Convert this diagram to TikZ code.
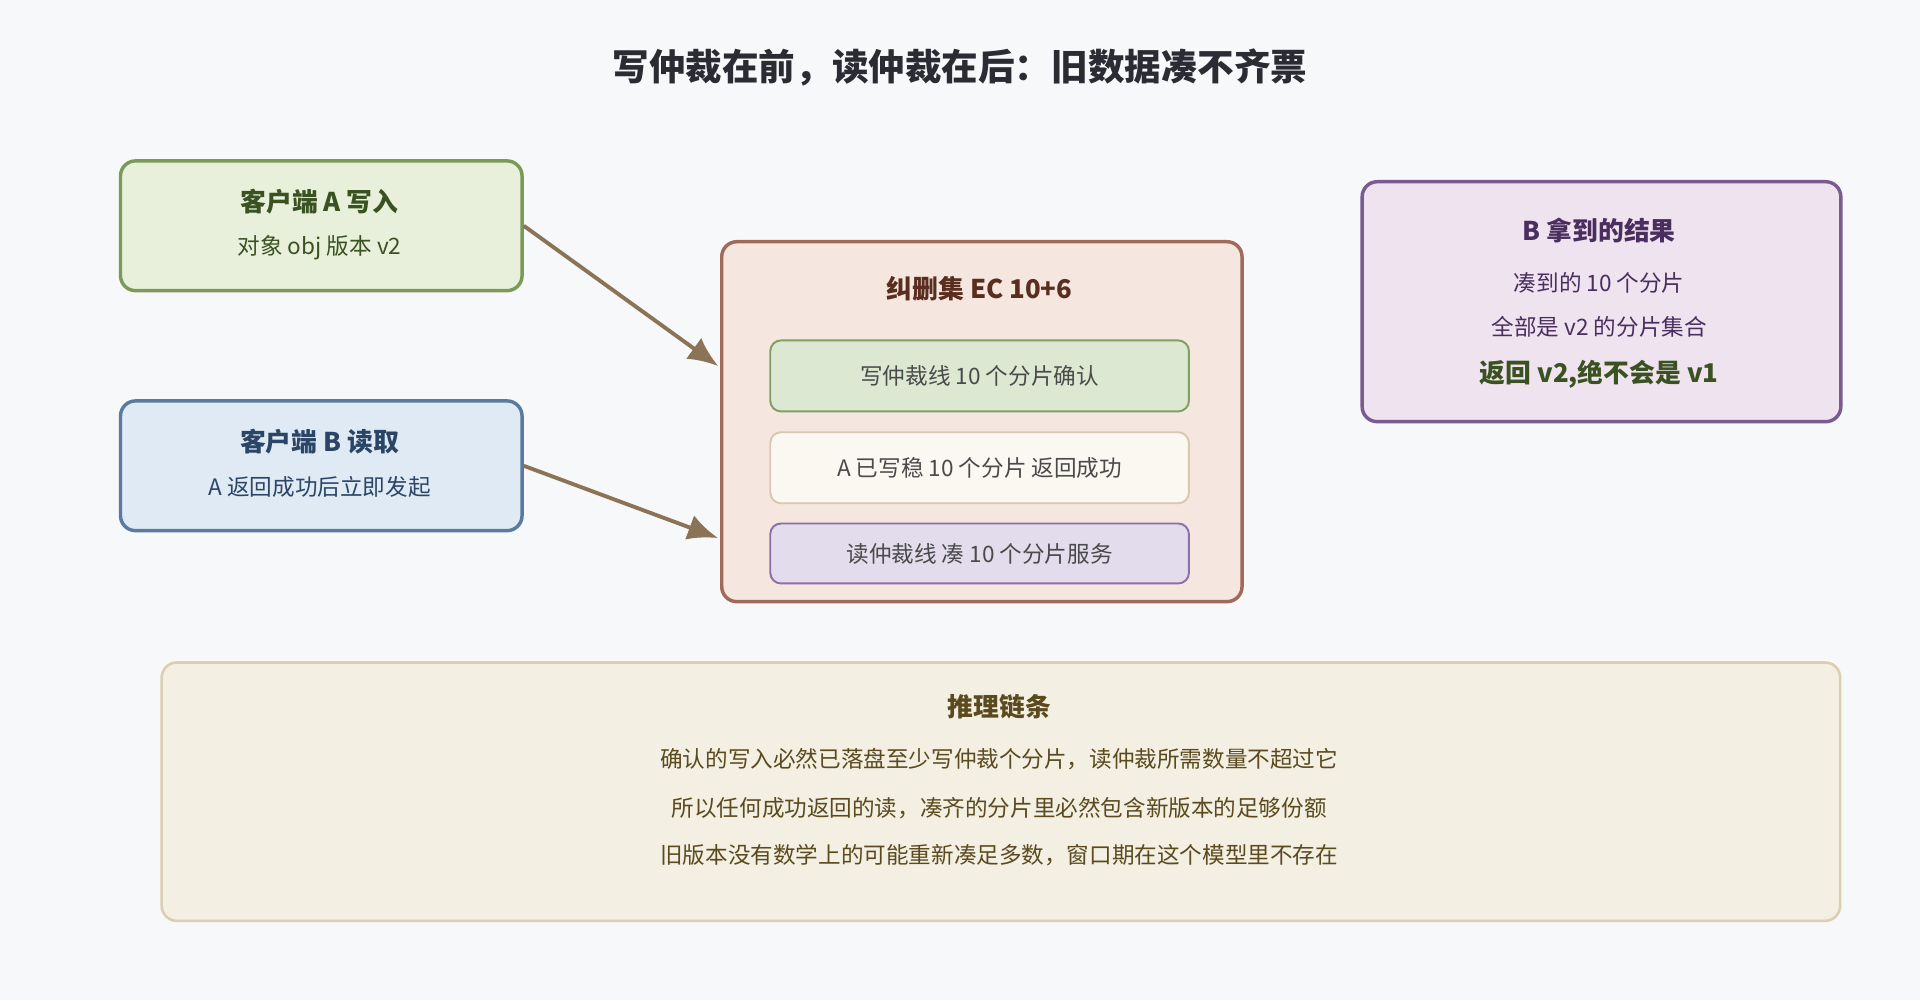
\documentclass[tikz,border=0pt]{standalone}
\usepackage{fontspec}
\setmainfont{Noto Sans CJK SC}
\usetikzlibrary{positioning}
\usetikzlibrary{calc}
\usetikzlibrary{arrows.meta}

\definecolor{bgc}{HTML}{F7F8FA}
\definecolor{titlec}{HTML}{2B2B33}
\definecolor{afill}{HTML}{E8F0DC}\definecolor{adraw}{HTML}{7A9A58}\definecolor{atext}{HTML}{3A5222}
\definecolor{bfill}{HTML}{DFEAF4}\definecolor{bdraw}{HTML}{5A7AA0}\definecolor{btext}{HTML}{2A4566}
\definecolor{ecfill}{HTML}{F5E6DF}\definecolor{ecdraw}{HTML}{A06A5A}\definecolor{ectext}{HTML}{5A2E1E}
\definecolor{wfill}{HTML}{DDE8D3}\definecolor{wdraw}{HTML}{7FA060}
\definecolor{sfill}{HTML}{FBF8F2}\definecolor{sdraw}{HTML}{D8C8B0}
\definecolor{rfill}{HTML}{E3DCEC}\definecolor{rdraw}{HTML}{8A70A8}
\definecolor{resfill}{HTML}{F0E3F0}\definecolor{resdraw}{HTML}{7A5A90}\definecolor{restext}{HTML}{4A2E5E}
\definecolor{chfill}{HTML}{F3EFE3}\definecolor{chdraw}{HTML}{DCCFB0}\definecolor{chtext}{HTML}{5A4A1E}
\definecolor{bodyc}{HTML}{4A4A4A}
\definecolor{arrc}{HTML}{8B7355}

\tikzset{
  box/.style={draw, line width=1.6pt, rounded corners=7pt, anchor=north west},
  inner/.style={draw, line width=0.9pt, rounded corners=5pt, minimum width=6.84cm, align=center,
    font=\fontsize{10.5}{13}\selectfont, text=bodyc},
  head/.style={font=\bfseries\fontsize{12}{14}\selectfont},
  body/.style={font=\fontsize{10.5}{13}\selectfont, text=bodyc},
  flow/.style={draw=arrc, line width=1.8pt, shorten >=1pt, arrows={-Latex[length=14pt,width=12pt]}}
}

\begin{document}
\begin{tikzpicture}[x=0.02cm, y=-0.02cm]
		\fill[bgc] (0,0) rectangle (1568,817);
		\node[text=titlec, font=\bfseries\fontsize{17}{20}\selectfont] (T) at (784,55) {写仲裁在前，读仲裁在后：旧数据凑不齐票};
		% clients
		\node[box, fill=afill, draw=adraw, minimum width=6.56cm, minimum height=2.12cm] (A) at (97,130) {};
		\node[head, text=atext] (At) at (261,165) {客户端 A 写入};
		\node[body, text=atext] (Ab) at (261,202) {对象 obj 版本 v2};
		\node[box, fill=bfill, draw=bdraw, minimum width=6.56cm, minimum height=2.12cm] (B) at (97,326) {};
		\node[head, text=btext] (Bt) at (261,361) {客户端 B 读取};
		\node[body, text=btext] (Bb) at (261,398) {A 返回成功后立即发起};
		% erasure set
		\node[box, fill=ecfill, draw=ecdraw, minimum width=8.5cm, minimum height=5.88cm] (EC) at (588,196) {};
		\node[head, text=ectext] (ECt) at (800,236) {纠删集 EC 10+6};
		\node[inner, fill=wfill, draw=wdraw, minimum height=1.16cm] (W) at (800,307) {写仲裁线 10 个分片确认};
		\node[inner, fill=sfill, draw=sdraw, minimum height=1.16cm] (S) at (800,382) {A 已写稳 10 个分片 返回成功};
		\node[inner, fill=rfill, draw=rdraw, minimum height=0.98cm] (R) at (800,452) {读仲裁线 凑 10 个分片服务};
		% result
		\node[box, fill=resfill, draw=resdraw, minimum width=7.82cm, minimum height=3.92cm] (Res) at (1111,147) {};
		\node[head, text=restext] (Rt) at (1306,188) {B 拿到的结果};
		\node[body, text=restext] (R1) at (1306,231) {凑到的 10 个分片};
		\node[body, text=restext] (R2) at (1306,267) {全部是 v2 的分片集合};
		\node[head, text=atext] (R3) at (1306,306) {返回 v2,绝不会是 v1};
		% chain
		\node[box, fill=chfill, draw=chdraw, line width=1.2pt, minimum width=27.42cm, minimum height=4.22cm] (C) at (131,540) {};
		\node[head, text=chtext] (Ct) at (816,577) {推理链条};
		\node[body, text=chtext] (C1) at (816,620) {确认的写入必然已落盘至少写仲裁个分片，读仲裁所需数量不超过它};
		\node[body, text=chtext] (C2) at (816,660) {所以任何成功返回的读，凑齐的分片里必然包含新版本的足够份额};
		\node[body, text=chtext] (C3) at (816,698) {旧版本没有数学上的可能重新凑足多数，窗口期在这个模型里不存在};
		\coordinate (inA) at (588,300);
		\coordinate (inB) at (588,440);
		\draw[flow] (A.east) -- (inA);
		\draw[flow] (B.east) -- (inB);
		\end{tikzpicture}
\end{document}
